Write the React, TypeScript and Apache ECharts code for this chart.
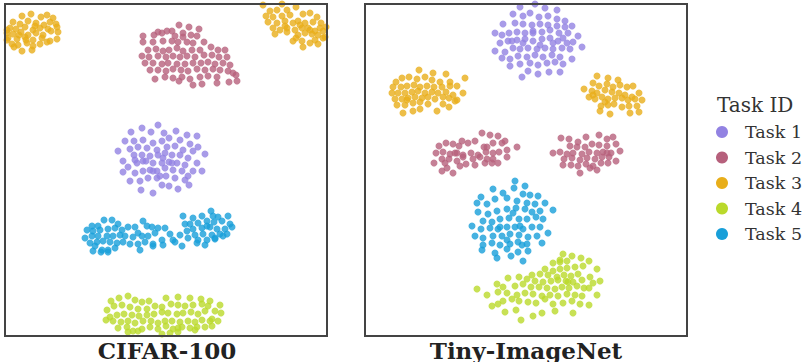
import React, { useEffect, useRef } from "react";
import * as echarts from "echarts";

const taskNames = ["Task 1", "Task 2", "Task 3", "Task 4", "Task 5"];
const taskColors = ["#9282e2", "#b6607c", "#e8ae1a", "#bad92b", "#189fd9"];
const panelTitles = ["CIFAR-100", "Tiny-ImageNet"];
const legendTitle = "Task ID";

// CIFAR-100 embedding
const cifarT1 = [[158,125],[142,128],[131,132],[151,132],[164,133],[176,131],[187,135],[197,136],[125,141],[134,141],[143,140],[153,143],[162,141],[169,138],[180,140],[190,144],[198,147],[118,151],[130,149],[138,147],[147,148],[157,150],[167,147],[175,146],[183,150],[193,151],[205,154],[123,161],[134,155],[142,155],[150,156],[158,155],[163,158],[172,155],[180,155],[188,158],[197,163],[128,167],[137,163],[143,161],[153,163],[162,163],[169,162],[177,163],[185,165],[193,171],[202,171],[123,172],[135,173],[143,171],[150,170],[157,171],[165,168],[173,170],[182,171],[188,176],[130,181],[140,181],[148,178],[157,178],[166,176],[175,178],[185,180],[189,185],[141,190],[153,193],[162,185],[169,186],[178,189],[146,161],[153,171],[160,176],[172,163],[165,153],[135,160]];
const cifarT2 = [[179,25],[189,27],[199,29],[167,31],[172,31],[183,33],[191,35],[154,35],[158,32],[162,33],[175,36],[183,37],[197,36],[143,42],[153,42],[163,41],[172,41],[178,42],[187,42],[193,43],[204,42],[148,50],[156,49],[163,51],[169,50],[177,48],[183,51],[192,50],[200,50],[211,47],[218,50],[225,50],[142,56],[149,57],[158,56],[166,57],[173,56],[180,57],[187,56],[195,57],[204,55],[212,55],[219,57],[227,57],[145,63],[153,63],[162,64],[168,63],[177,64],[185,64],[193,63],[201,63],[208,62],[215,64],[223,63],[230,65],[150,70],[158,70],[166,71],[173,69],[181,70],[188,71],[197,69],[205,70],[213,69],[220,70],[228,71],[155,79],[165,77],[173,78],[182,77],[190,79],[200,77],[208,76],[217,77],[236,75],[233,73],[179,81],[193,85],[202,84],[217,83],[229,82],[237,81],[143,36]];
const cifarT3 = [[22,16],[31,14],[41,17],[47,15],[53,18],[13,22],[20,24],[28,21],[36,23],[44,25],[50,22],[56,24],[10,28],[16,29],[25,27],[33,30],[40,28],[48,29],[57,27],[7,33],[13,34],[21,32],[28,35],[36,33],[43,35],[51,31],[58,32],[8,38],[17,39],[25,37],[33,40],[42,38],[50,41],[57,39],[12,44],[18,45],[27,43],[33,46],[40,44],[47,42],[22,51],[32,50],[14,47],[7,30],[7,40],[26,40],[35,26],[19,35],
  [263,5],[282,4],[296,7],[270,11],[277,10],[287,10],[266,16],[273,17],[282,16],[290,15],[303,14],[310,13],[317,17],[268,22],[277,23],[285,21],[293,23],[298,21],[305,23],[313,22],[321,23],[273,28],[280,30],[287,28],[295,30],[302,28],[308,28],[315,31],[323,31],[275,34],[287,32],[298,35],[305,33],[312,34],[318,35],[325,37],[293,41],[302,41],[310,43],[318,44],[323,38],[303,47],[326,27],[300,25],[310,30],[296,38],[315,40],[285,26],[320,28]];
const cifarT4 = [[111,301],[119,298],[128,296],[135,300],[142,302],[149,301],[166,298],[178,297],[190,298],[201,299],[210,301],[220,305],[107,310],[114,306],[122,305],[130,307],[138,309],[147,309],[155,306],[162,307],[171,304],[178,305],[185,306],[193,305],[202,304],[208,306],[215,311],[221,313],[110,317],[117,315],[124,314],[132,315],[139,316],[147,315],[154,314],[162,312],[168,313],[177,314],[183,313],[191,312],[198,314],[205,311],[212,319],[218,321],[106,320],[113,321],[121,322],[128,321],[135,323],[143,321],[151,321],[158,323],[165,321],[172,321],[180,322],[188,321],[195,322],[202,320],[210,321],[118,328],[127,327],[133,331],[142,329],[150,327],[158,329],[166,326],[173,329],[182,327],[190,328],[197,327],[205,327],[212,326],[128,332],[138,331],[162,334],[170,333],[178,332],[195,330],[178,328]];
const cifarT5 = [[92,226],[98,226],[104,220],[112,220],[118,224],[87,230],[93,231],[100,230],[108,229],[115,228],[122,230],[85,238],[92,236],[98,236],[107,236],[113,236],[120,235],[125,236],[90,243],[97,242],[103,241],[110,242],[117,243],[123,242],[95,246],[102,250],[108,250],[115,248],[93,251],[101,252],[108,252],[128,227],[135,227],[143,221],[147,226],[138,233],[133,237],[142,236],[148,236],[155,233],[152,227],[158,228],[165,228],[130,244],[138,244],[145,242],[153,244],[162,240],[170,234],[173,240],[163,245],[140,250],[153,246],[182,246],[175,242],[180,235],[187,231],[183,216],[193,218],[202,216],[211,211],[218,217],[228,216],[190,224],[198,223],[207,221],[214,222],[222,221],[230,224],[193,229],[202,228],[210,227],[217,229],[225,229],[232,227],[195,235],[203,234],[212,235],[220,234],[227,234],[188,238],[198,240],[207,240],[215,238],[223,236],[197,243],[205,245],[215,239],[207,226],[213,216],[185,224]];

// Tiny-ImageNet embedding
const tinyT1 = [[535,4],[520,7],[545,8],[557,10],[513,14],[523,16],[530,13],[539,17],[548,16],[557,19],[565,21],[503,24],[515,23],[523,24],[532,25],[540,24],[548,25],[557,26],[565,27],[572,26],[495,33],[502,35],[509,33],[517,32],[525,33],[533,31],[542,32],[550,30],[559,33],[568,33],[578,36],[500,43],[508,41],[517,40],[525,39],[533,41],[542,39],[550,38],[558,41],[567,43],[573,42],[495,51],[505,52],[513,48],[520,49],[528,48],[537,49],[545,48],[553,49],[562,48],[570,49],[582,47],[502,58],[510,59],[518,56],[527,57],[535,55],[543,57],[552,55],[560,57],[572,59],[510,66],[520,64],[530,63],[538,65],[547,63],[555,62],[563,64],[528,71],[538,74],[549,72],[560,72],[522,77],[512,41],[533,33],[523,43],[553,43],[540,45],[563,38]];
const tinyT2 = [[462,141],[482,133],[490,135],[498,136],[439,146],[446,143],[453,144],[459,146],[468,143],[475,141],[484,147],[493,143],[502,143],[505,141],[517,147],[436,153],[443,152],[450,154],[457,153],[463,155],[471,153],[478,155],[486,152],[493,153],[499,152],[507,150],[434,163],[442,159],[449,159],[457,161],[463,157],[473,159],[480,157],[487,159],[493,159],[442,171],[447,168],[453,173],[460,166],[466,164],[475,165],[485,163],[492,163],[498,163],[507,157],[445,163],[455,153],[487,147],
  [561,138],[569,139],[578,142],[586,137],[599,135],[607,139],[613,137],[570,146],[577,147],[585,147],[592,144],[599,145],[607,146],[616,144],[553,153],[560,152],[567,154],[573,153],[582,154],[589,152],[597,153],[603,152],[611,153],[620,151],[564,159],[572,158],[580,160],[587,158],[595,159],[602,157],[609,157],[616,161],[563,165],[571,165],[578,166],[586,164],[593,166],[601,163],[608,163],[580,173],[597,170],[590,168],[607,153]];
const tinyT3 = [[419,70],[433,73],[446,74],[402,78],[409,77],[417,79],[425,77],[432,80],[440,82],[450,82],[465,78],[396,82],[393,87],[401,87],[407,86],[414,85],[420,87],[427,86],[434,87],[442,87],[450,86],[457,86],[392,93],[398,93],[405,93],[412,92],[418,91],[425,93],[432,92],[438,93],[446,92],[453,95],[463,93],[395,99],[402,99],[408,98],[415,97],[422,98],[428,97],[435,99],[443,97],[449,98],[457,100],[397,105],[405,105],[413,103],[420,102],[428,104],[443,104],[449,107],[403,113],[413,111],[420,109],[437,111],[455,101],[407,100],
  [597,76],[608,78],[618,80],[593,83],[599,86],[607,84],[613,87],[620,85],[627,87],[633,86],[584,89],[592,91],[597,93],[605,90],[612,92],[619,93],[625,95],[632,97],[639,93],[589,97],[595,99],[602,97],[608,99],[615,98],[622,98],[628,100],[635,99],[642,100],[601,106],[608,105],[614,104],[622,107],[629,106],[637,106],[600,111],[610,114],[630,113],[639,112],[593,95],[605,102]];
const tinyT4 = [[563,254],[572,256],[553,263],[560,262],[567,261],[581,258],[589,261],[545,269],[553,271],[560,269],[567,268],[575,267],[583,266],[597,269],[532,275],[540,274],[548,275],[557,277],[564,275],[571,276],[578,274],[590,277],[600,281],[508,278],[519,277],[527,279],[535,281],[543,282],[551,281],[558,280],[566,281],[573,282],[582,280],[593,283],[497,284],[503,287],[515,286],[523,284],[531,287],[539,287],[547,288],[555,289],[562,287],[569,288],[577,286],[584,288],[589,288],[477,289],[498,292],[507,293],[517,295],[525,293],[533,294],[542,296],[550,295],[558,296],[567,294],[575,295],[582,296],[597,295],[487,295],[492,306],[503,301],[512,299],[519,301],[528,302],[536,303],[545,299],[553,304],[563,303],[572,301],[580,304],[589,305],[498,304],[505,312],[516,310],[533,316],[542,313],[555,311],[573,313],[521,320],[560,260],[568,282]];
const tinyT5 = [[515,181],[525,186],[493,189],[503,193],[514,188],[523,194],[530,195],[538,196],[481,197],[477,203],[487,204],[495,199],[507,198],[517,201],[527,203],[535,204],[545,203],[478,212],[488,214],[497,211],[507,209],[516,208],[525,209],[532,212],[540,211],[553,210],[483,221],[492,222],[500,219],[509,218],[519,219],[527,219],[536,217],[543,219],[472,226],[481,229],[490,228],[498,229],[507,227],[515,227],[523,229],[532,227],[540,227],[548,233],[475,236],[483,238],[493,236],[502,236],[510,234],[519,235],[528,237],[537,236],[483,245],[492,243],[500,245],[510,244],[518,242],[527,244],[542,243],[482,250],[495,253],[507,249],[518,252],[528,251],[497,258],[511,256],[523,261],[500,227],[513,213],[520,226],[507,240],[522,245]];

const cifarData = [cifarT1, cifarT2, cifarT3, cifarT4, cifarT5];
const tinyData = [tinyT1, tinyT2, tinyT3, tinyT4, tinyT5];

const FONT = "'DejaVu Serif', serif";

export default function App() {
  const ref = useRef<HTMLDivElement>(null);
  useEffect(() => {
    if (!ref.current) return;
    const chart = echarts.init(ref.current, null, { renderer: "svg" });
    const panels = [
      { left: 5, xMin: 5, xMax: 327, data: cifarData, title: panelTitles[0], cx: 167 },
      { left: 365, xMin: 365, xMax: 687, data: tinyData, title: panelTitles[1], cx: 526 },
    ];
    const series: any[] = [];
    panels.forEach((p, pi) => {
      p.data.forEach((pts, ti) => {
        series.push({
          type: "scatter",
          name: taskNames[ti],
          xAxisIndex: pi,
          yAxisIndex: pi,
          data: pts,
          symbol: "circle",
          symbolSize: 7,
          itemStyle: { color: taskColors[ti], opacity: 0.8 },
          emphasis: { disabled: true },
        });
      });
    });
    const legendItems: any[] = [];
    taskNames.forEach((n, i) => {
      const cy = 132 + i * 25.5;
      legendItems.push({
        type: "circle",
        shape: { cx: 722, cy, r: 6 },
        style: { fill: taskColors[i] },
      });
      legendItems.push({
        type: "text",
        x: 745,
        y: cy,
        style: {
          text: n,
          fontFamily: FONT,
          fontSize: 17.5,
          fill: "#333",
          textAlign: "left",
          textVerticalAlign: "middle",
        },
      });
    });
    chart.setOption({
      animation: false,
      grid: panels.map((p) => ({ left: p.left, top: 4, width: 322, height: 332 })),
      xAxis: panels.map((p, i) => ({ type: "value", gridIndex: i, min: p.xMin, max: p.xMax, show: false })),
      yAxis: panels.map((p, i) => ({ type: "value", gridIndex: i, min: 4, max: 336, inverse: true, show: false })),
      graphic: [
        ...panels.map((p) => ({
          type: "rect",
          z: 100,
          shape: { x: p.left, y: 4, width: 322, height: 332 },
          style: { fill: "none", stroke: "#444", lineWidth: 2 },
        })),
        ...panels.map((p) => ({
          type: "text",
          z: 100,
          x: p.cx,
          y: 350,
          style: {
            text: p.title,
            fontFamily: FONT,
            fontWeight: "bold",
            fontSize: 23,
            lineHeight: 22,
            fill: "#222",
            textAlign: "center",
            textVerticalAlign: "middle",
          },
        })),
        {
          type: "text",
          x: 717,
          y: 105,
          style: {
            text: legendTitle,
            fontFamily: FONT,
            fontSize: 20,
            fill: "#333",
            textAlign: "left",
            textVerticalAlign: "middle",
          },
        },
        ...legendItems,
      ],
      series,
    });
    return () => chart.dispose();
  }, []);
  return (
    <div
      ref={ref}
      style={{ position: "absolute", left: 0, top: 0, width: 802, height: 362, background: "#fff" }}
    />
  );
}
